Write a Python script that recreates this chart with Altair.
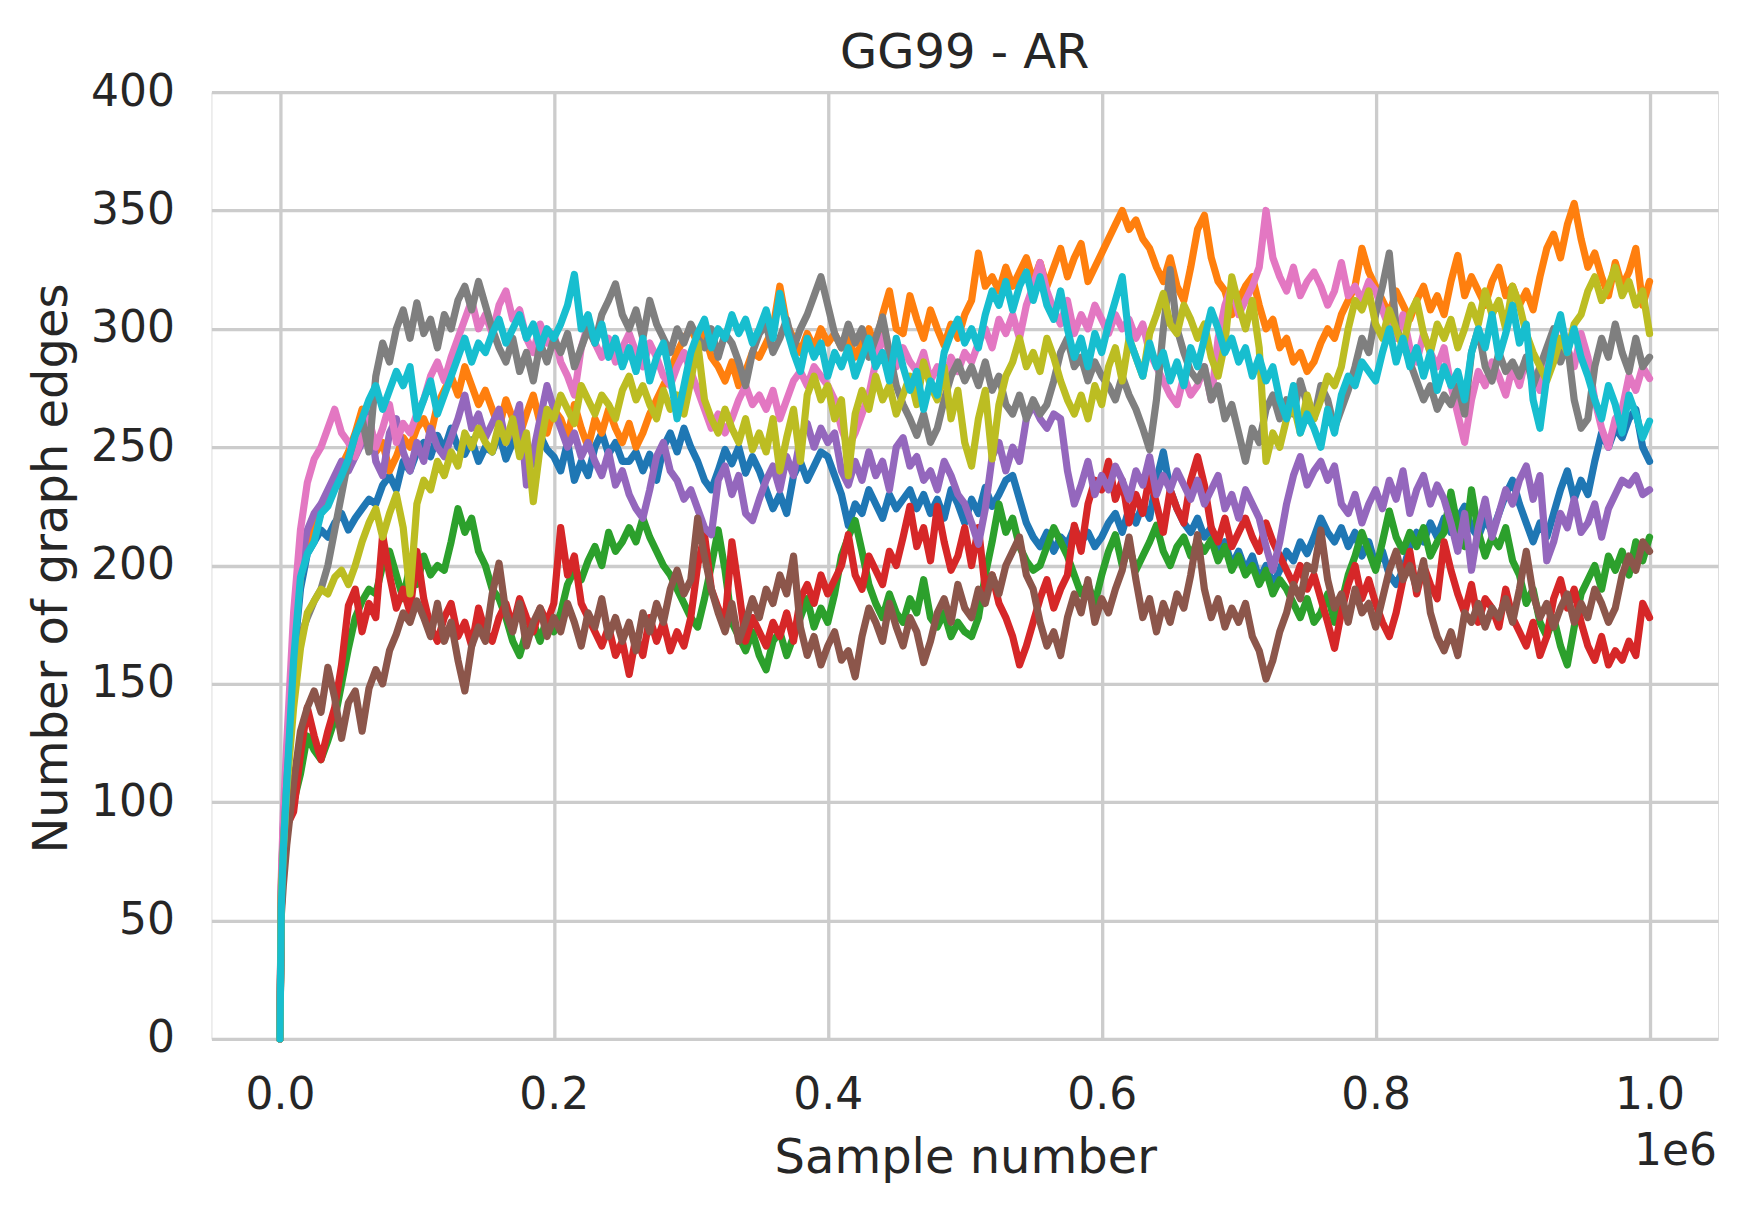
import altair as alt
import pandas as pd

# sample positions (x) shared by all runs
SAMPLES = [0, 1000, 2500] + list(range(5000, 1000001, 5000))

blue = [0, 62, 85,
110,160,190,205,210,215,212,218,222,215,
220,224,228,226,234,238,232,244,240,248,
252,246,255,249,258,250,247,253,244,250,
248,256,245,252,260,250,243,255,249,246,
240,252,236,244,238,250,256,247,252,244,
244,248,240,247,236,250,256,248,258,250,
244,236,232,240,249,243,250,239,246,240,
232,224,230,222,238,244,236,242,248,246,
238,230,217,226,222,232,226,220,230,224,
228,232,224,230,222,228,220,232,226,218,
228,222,233,225,230,236,238,228,218,212,
208,214,206,212,209,216,210,214,208,212,
218,222,214,224,218,226,220,236,248,232,
224,218,214,220,212,216,205,210,200,206,
198,204,194,200,192,198,206,202,210,205,
212,220,214,210,216,208,214,204,210,200,
206,196,192,198,208,214,210,218,212,220,
214,220,225,216,212,220,214,222,230,236,
226,218,210,218,212,222,232,240,228,236,
230,244,256,250,258,254,262,266,250,244]

orange = [0, 65, 88,
115,165,195,208,215,222,228,236,242,248,
256,266,258,248,252,240,246,254,250,258,
262,255,268,274,280,272,284,276,268,274,
266,258,270,262,255,264,272,260,256,266,
262,254,268,258,250,262,256,266,258,252,
260,250,256,264,270,276,282,290,296,300,
294,298,288,284,278,286,276,282,290,288,
294,300,318,302,296,290,298,292,300,294,
298,292,296,288,294,300,292,306,316,300,
298,314,304,296,308,300,293,302,296,306,
312,332,318,322,316,326,318,324,330,320,
328,318,326,334,322,330,336,320,326,332,
338,344,350,342,346,338,334,326,320,330,
318,312,326,342,348,330,320,316,306,312,
318,322,310,300,304,292,296,286,290,282,
286,294,300,296,306,312,318,334,324,318,
312,306,316,310,304,312,318,308,314,306,
320,331,314,322,316,310,320,326,314,318,
310,316,308,322,334,340,330,344,353,338,
326,332,322,314,328,318,324,334,310,320]

green = [0, 55, 75,
92,100,112,128,122,118,126,135,150,165,
178,185,190,188,200,206,196,186,200,192,
204,196,200,198,210,224,214,220,206,200,
190,186,178,168,162,172,176,168,178,172,
180,192,198,194,202,208,200,214,206,210,
216,210,220,212,206,200,196,190,184,178,
174,186,200,215,198,176,170,164,172,162,
156,168,172,162,170,178,186,174,182,176,
188,204,212,219,206,192,184,178,188,180,
176,186,180,194,178,174,180,170,176,172,
170,178,196,210,226,214,220,208,202,198,
200,208,216,210,204,196,188,192,184,196,
206,213,200,208,198,204,210,217,206,200,
208,212,204,210,206,211,202,208,198,204,
196,200,192,198,188,194,190,184,178,186,
176,180,188,176,184,196,204,214,206,198,
210,223,212,206,214,208,216,204,210,214,
231,216,208,232,214,204,212,208,216,202,
196,184,190,176,170,178,166,158,174,188,
194,200,190,204,198,206,196,210,202,212]

red = [0, 56, 72,
90,96,120,140,128,118,130,140,158,183,
190,172,184,178,213,196,182,190,180,206,
186,174,168,178,184,170,176,166,182,172,
168,178,184,174,186,178,172,182,176,184,
216,196,204,184,178,172,166,174,162,168,
154,170,162,178,168,176,164,172,166,178,
200,213,190,182,176,210,190,168,178,172,
166,176,170,180,168,186,192,184,196,188,
194,200,213,196,190,204,198,192,206,200,
212,225,208,216,202,225,210,198,204,216,
200,216,190,196,184,178,170,158,166,176,
186,194,182,190,196,217,206,226,236,232,
244,228,236,218,230,222,238,226,214,232,
224,218,236,246,234,216,210,220,208,214,
220,212,206,218,210,204,198,192,200,190,
196,186,176,165,180,192,200,186,194,184,
176,170,180,194,206,188,200,192,186,210,
198,188,180,192,176,186,182,174,190,178,
172,166,176,162,170,186,194,182,190,176,
166,160,170,158,164,160,168,162,184,178]

purple = [0, 64, 90,
118,170,200,215,222,226,232,238,244,240,
246,252,264,244,238,256,262,248,240,252,
244,258,250,246,254,262,272,258,264,254,
260,266,252,258,268,234,248,262,276,266,
258,250,256,246,252,244,238,248,234,240,
230,224,220,232,246,252,240,236,228,232,
224,216,213,236,242,230,238,222,219,228,
236,242,232,246,238,254,260,250,258,252,
256,240,234,244,236,248,238,244,232,250,
254,242,246,236,240,232,244,238,230,226,
218,209,224,246,252,240,250,244,262,268,
262,258,264,262,240,226,234,244,230,238,
232,242,236,228,240,234,246,230,238,232,
240,234,228,236,226,232,238,224,230,220,
232,226,220,208,198,210,226,238,246,234,
240,244,236,242,226,222,230,218,226,232,
224,236,228,240,222,232,238,226,234,228,
218,206,222,198,216,228,212,222,232,226,
236,242,228,238,202,210,222,216,228,214,
218,226,212,224,230,236,234,238,230,232]

brown = [0, 52, 65,
82,108,130,140,147,138,157,144,127,142,
147,130,148,156,150,164,171,180,176,185,
178,170,184,168,176,160,147,166,174,168,
188,201,180,172,184,166,176,182,170,178,
172,184,176,166,180,174,186,170,178,168,
176,164,180,172,184,176,190,198,188,194,
220,204,190,180,172,184,168,176,186,178,
190,184,196,188,204,174,162,170,158,166,
172,160,164,153,170,182,176,168,184,174,
166,178,172,159,168,180,186,176,192,182,
178,190,184,196,188,200,206,212,196,190,
176,166,172,162,178,188,180,194,176,186,
180,190,198,212,194,178,186,172,184,176,
188,182,196,213,190,178,186,174,182,176,
184,170,164,152,160,172,180,192,186,200,
198,215,194,182,188,176,190,180,184,174,
186,198,206,194,200,190,202,180,170,164,
172,162,180,176,184,174,182,178,186,176,
190,206,188,178,184,174,182,188,176,184,
178,190,184,176,182,196,204,198,210,206]

pink = [0, 68, 95,
125,180,215,235,245,250,258,266,256,252,
246,254,262,250,258,268,252,260,256,264,
270,280,286,278,288,296,304,312,300,306,
298,310,316,304,308,296,290,302,294,298,
286,280,272,292,302,294,288,296,286,292,
298,290,284,294,288,280,276,284,290,282,
274,266,258,264,256,262,270,276,268,272,
266,274,262,270,278,282,276,284,280,276,
270,258,250,256,264,272,286,297,290,284,
292,286,282,290,278,284,276,288,282,290,
286,294,300,292,304,298,306,296,310,318,
328,316,308,302,312,298,306,300,310,304,
298,306,300,304,296,302,290,284,278,272,
268,280,272,276,284,270,296,310,318,306,
312,318,326,350,330,322,316,326,314,320,
324,318,310,316,328,314,318,312,320,316,
308,300,296,306,292,286,298,290,284,292,
276,264,252,270,282,276,286,280,272,284,
276,288,280,274,286,296,304,292,284,298,
288,270,258,250,262,266,280,274,284,279]

gray = [0, 60, 82,
108,150,170,178,185,190,200,215,230,245,
255,262,248,280,294,286,300,308,296,311,
298,304,292,306,300,312,318,308,320,310,
300,292,286,296,282,290,278,294,286,296,
290,298,284,292,300,294,306,312,319,306,
300,308,296,312,302,296,290,300,294,302,
296,292,300,288,298,294,286,276,290,298,
302,290,296,304,292,300,306,314,322,310,
298,292,302,294,300,288,296,305,290,276,
268,262,255,264,252,258,270,280,286,278,
284,276,286,274,280,268,264,272,262,270,
264,268,278,290,296,284,288,278,286,280,
276,270,280,272,266,258,249,270,300,325,
300,290,282,278,284,270,276,262,268,256,
244,258,252,266,272,262,270,264,278,268,
262,276,270,258,266,274,284,296,290,306,
318,332,300,294,286,278,270,276,266,272,
268,276,264,290,300,284,278,290,282,286,
280,288,276,284,292,300,286,294,270,258,
262,284,296,288,302,290,282,296,284,288]

olive = [0, 60, 80,
105,140,165,180,185,190,188,195,198,192,
200,210,218,224,212,222,230,216,188,226,
236,232,244,238,248,242,256,250,258,252,
248,260,252,262,246,256,227,250,266,262,
272,266,260,276,270,264,272,268,262,274,
280,270,276,268,262,274,266,272,264,278,
294,270,262,256,266,258,252,262,249,256,
248,262,240,254,266,244,272,280,270,276,
262,270,238,264,274,266,280,270,276,264,
272,280,268,286,276,270,284,262,274,252,
242,262,274,245,268,280,286,296,284,290,
282,296,288,278,270,264,272,262,276,268,
284,292,278,296,288,280,298,306,315,302,
298,310,304,296,302,288,280,294,322,310,
300,312,292,244,256,250,262,268,256,272,
262,270,280,276,284,300,312,308,316,302,
296,308,300,292,306,312,298,290,302,296,
304,292,300,310,302,316,306,312,300,318,
310,298,290,284,278,286,296,290,302,306,
316,322,312,318,326,314,320,310,316,298]

cyan = [0, 55, 80,
108,160,195,205,210,222,225,232,238,245,
255,262,270,276,266,274,282,276,284,262,
270,278,264,272,280,288,296,286,294,290,
298,304,294,300,306,296,302,292,300,296,
302,310,323,300,306,294,302,288,296,284,
292,282,296,278,288,294,280,262,276,290,
298,304,292,300,296,306,298,304,294,300,
308,296,315,300,290,282,296,288,294,280,
290,284,292,280,288,296,284,290,278,296,
284,274,282,266,278,272,290,298,304,294,
300,292,306,316,310,320,308,318,324,312,
322,310,304,316,300,288,296,284,298,290,
302,312,322,296,288,280,294,284,290,278,
286,276,292,284,296,308,300,290,296,286,
292,280,288,278,284,270,262,276,256,264,
258,250,266,256,272,280,276,286,282,278,
290,300,286,296,284,292,280,290,274,284,
276,282,270,290,300,292,306,288,298,310,
294,302,270,258,280,296,306,290,300,288,
280,270,262,276,268,256,272,264,254,261]

SERIES = [
    (blue, "#1f77b4"), (orange, "#ff7f0e"), (green, "#2ca02c"),
    (red, "#d62728"), (purple, "#9467bd"), (brown, "#8c564b"),
    (pink, "#e377c2"), (gray, "#7f7f7f"), (olive, "#bcbd22"),
    (cyan, "#17becf"),
]

X_TICKS = [0, 200000, 400000, 600000, 800000, 1000000]
Y_TICKS = [0, 50, 100, 150, 200, 250, 300, 350, 400]

TXT = "#262626"
GRID = "#cccccc"
FONT = "DejaVu Sans"
W, H = 1507, 947

xs = alt.Scale(domain=[-50000, 1050000], nice=False, zero=False)
ys = alt.Scale(domain=[0, 400], nice=False)

xaxis = alt.Axis(
    values=X_TICKS, labelExpr="format(datum.value / 1000000, '.1f')",
    title="Sample number", titleFont=FONT, titleFontSize=48, titleFontWeight="normal",
    titleColor=TXT, titleBaseline="alphabetic", titleAlign="center",
    titleX=754, titleY=134,
    labelFont=FONT, labelFontSize=44, labelColor=TXT, labelPadding=35,
    labelFlush=False, labelOverlap=False,
    ticks=False, tickSize=0, domain=False,
    grid=True, gridColor=GRID, gridWidth=3.3, gridOpacity=1,
)
yaxis = alt.Axis(
    values=Y_TICKS,
    title="Number of graph edges", titleFont=FONT, titleFontSize=48, titleFontWeight="normal",
    titleColor=TXT, titleBaseline="alphabetic", titleAlign="center", titleAngle=270,
    titleX=-145, titleY=476,
    labelFont=FONT, labelFontSize=44, labelColor=TXT, labelPadding=37,
    labelFlush=False, labelOverlap=False,
    ticks=False, tickSize=0, domain=False,
    grid=True, gridColor=GRID, gridWidth=3.3, gridOpacity=1,
)

layers = []
for vals, color in SERIES:
    assert len(vals) == len(SAMPLES), (color, len(vals))
    df = pd.DataFrame({"sample": SAMPLES, "edges": vals})
    layers.append(
        alt.Chart(df).mark_line(color=color, strokeWidth=7.2, strokeJoin="round", strokeCap="round")
        .encode(x=alt.X("sample:Q", scale=xs, axis=xaxis),
                y=alt.Y("edges:Q", scale=ys, axis=yaxis))
    )

offset_text = alt.Chart(pd.DataFrame({"t": ["1e6"]})).mark_text(
    align="right", baseline="alphabetic", fontSize=44, font=FONT, color=TXT
).encode(x=alt.value(W - 1), y=alt.value(1165 - 92), text="t:N")
layers.append(offset_text)

chart = alt.layer(*layers).properties(
    width=W, height=H,
    title=alt.Title("GG99 - AR", font=FONT, fontSize=48, fontWeight="normal", color=TXT,
                    anchor="middle", baseline="alphabetic", offset=0, dy=46),
    padding={"left": 203.5, "top": 84, "right": 22, "bottom": 150},
    autosize=alt.AutoSizeParams(type="none"),
).configure_view(stroke=GRID, strokeWidth=3.3).configure(background="white")

chart.save("out.html", embed_options={"renderer": "svg", "actions": False})
